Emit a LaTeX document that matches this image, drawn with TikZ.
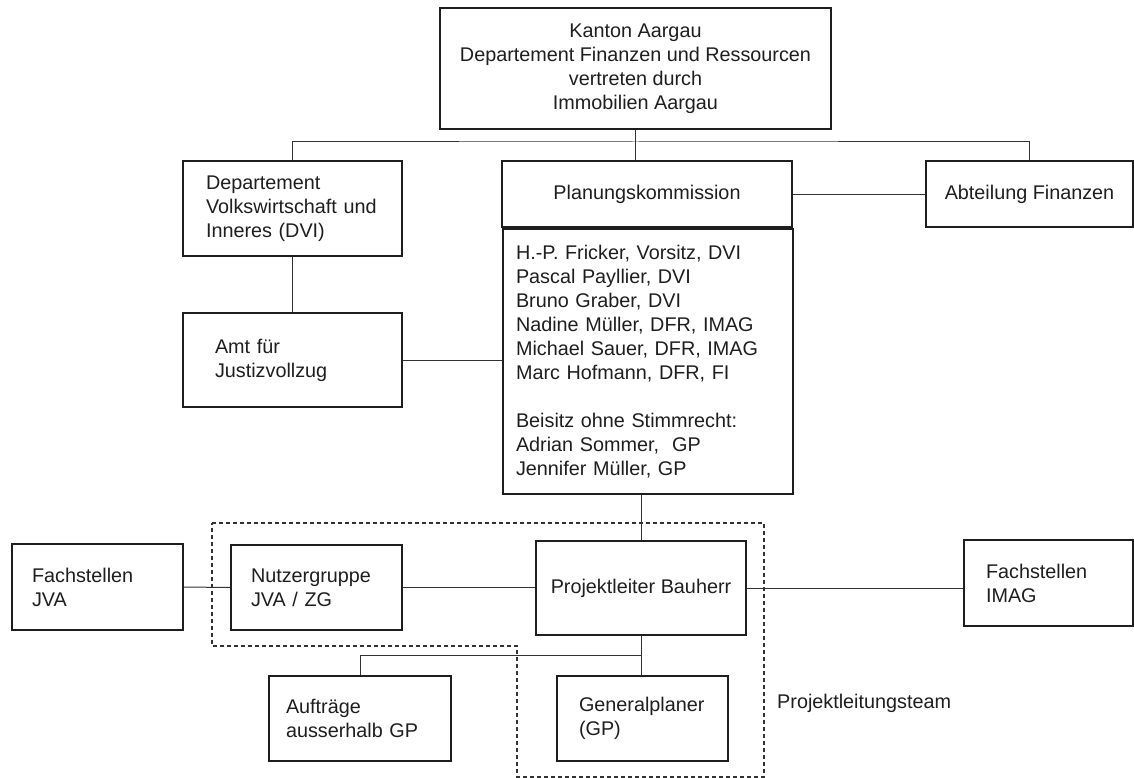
\documentclass[tikz,border=0pt]{standalone}
\usepackage{fontspec}
\setmainfont{Liberation Sans}
\usetikzlibrary{calc}
\definecolor{orgK}{RGB}{30,30,30}
\definecolor{orgL}{RGB}{50,50,50}

\begin{document}
\begin{tikzpicture}[x=1pt,y=-1pt,
  orgbox/.style={draw=orgK,line width=1.1pt,inner ysep=0pt,text=orgK,font=\fontsize{19.8}{24}\selectfont},
  cbox/.style={orgbox,align=center},
  lbox/.style={orgbox,align=left},
  link/.style={draw=orgL,line width=1pt},
  team/.style={draw=orgL,line width=1.1pt,dash pattern=on 4pt off 3pt}]
\useasboundingbox (0,0) rectangle (1134,778);
\node[cbox,minimum width=391pt,minimum height=121pt] (kanton) at (635.5,68.5)
  {Kanton Aargau\\Departement Finanzen und Ressourcen\\vertreten durch\\Immobilien Aargau};
\node[lbox,text width=173pt,inner xsep=23pt,minimum height=95pt] (dvi) at (292.5,208.5)
  {Departement\\Volkswirtschaft und\\Inneres (DVI)};
\node[cbox,minimum width=290pt,minimum height=66pt] (plan) at (647,194) {Planungskommission};
\node[cbox,minimum width=207pt,minimum height=66pt] (abt) at (1029.5,194) {Abteilung Finanzen};
\node[lbox,text width=264pt,inner xsep=13pt,minimum height=265pt] (members) at (648,361.5)
  {H.-P. Fricker, Vorsitz, DVI\\Pascal Payllier, DVI\\Bruno Graber, DVI\\Nadine Müller, DFR, IMAG\\
   Michael Sauer, DFR, IMAG\\Marc Hofmann, DFR, FI\\[24pt]Beisitz ohne Stimmrecht:\\
   Adrian Sommer,\ \ GP\\Jennifer Müller, GP};
\node[lbox,text width=155pt,inner xsep=32pt,minimum height=94pt] (amt) at (292.5,360)
  {Amt für\\Justizvollzug};
\node[lbox,text width=131pt,inner xsep=20pt,minimum height=86pt] (fjva) at (97.5,587) {Fachstellen\\JVA};
\node[lbox,text width=131pt,inner xsep=20pt,minimum height=85pt] (nutzer) at (316.5,587.5) {Nutzergruppe\\JVA / ZG};
\node[cbox,minimum width=210pt,minimum height=94pt] (plb) at (641,588) {Projektleiter Bauherr};
\node[lbox,text width=125pt,inner xsep=22pt,minimum height=86pt] (fimag) at (1048.5,583) {Fachstellen\\IMAG};
\node[lbox,text width=148pt,inner xsep=17pt,minimum height=85pt] (auftr) at (360,718.5) {Aufträge\\ausserhalb GP};
\node[lbox,text width=127pt,inner xsep=22pt,minimum height=85pt] (gp) at (642.5,718.5) {Generalplaner\\(GP)};
\node[anchor=west,inner sep=0pt,text=orgK,font=\fontsize{19.8}{24}\selectfont] (teamlbl) at (777,703) {Projektleitungsteam};

\coordinate (bus) at (kanton.south |- 0,142);
\draw[link] (dvi.north) |- (bus) -| (abt.north);
\draw[link] (kanton.south) -- (kanton.south |- plan.north);
\draw[link] (plan.east) -- (abt.west);
\draw[link] (dvi.south) -- (amt.north);
\draw[link] (amt.east) -- (amt.east -| members.west);
\draw[link] (members.south -| plb.north) -- (plb.north);
\draw[link] (fjva.east) -- (nutzer.west);
\draw[link] (nutzer.east) -- (nutzer.east -| plb.west);
\draw[link] (plb.east) -- (plb.east -| fimag.west);
\coordinate (split) at ($(plb.south)!.5!(plb.south |- gp.north)$);
\draw[link] (plb.south) -- (plb.south |- gp.north);
\draw[link] (split) -| (auftr.north);
\draw[team] (212,523) -- (764,523) -- (764,777) -- (517,777) -- (517,646) -- (212,646) -- cycle;
\end{tikzpicture}
\end{document}
